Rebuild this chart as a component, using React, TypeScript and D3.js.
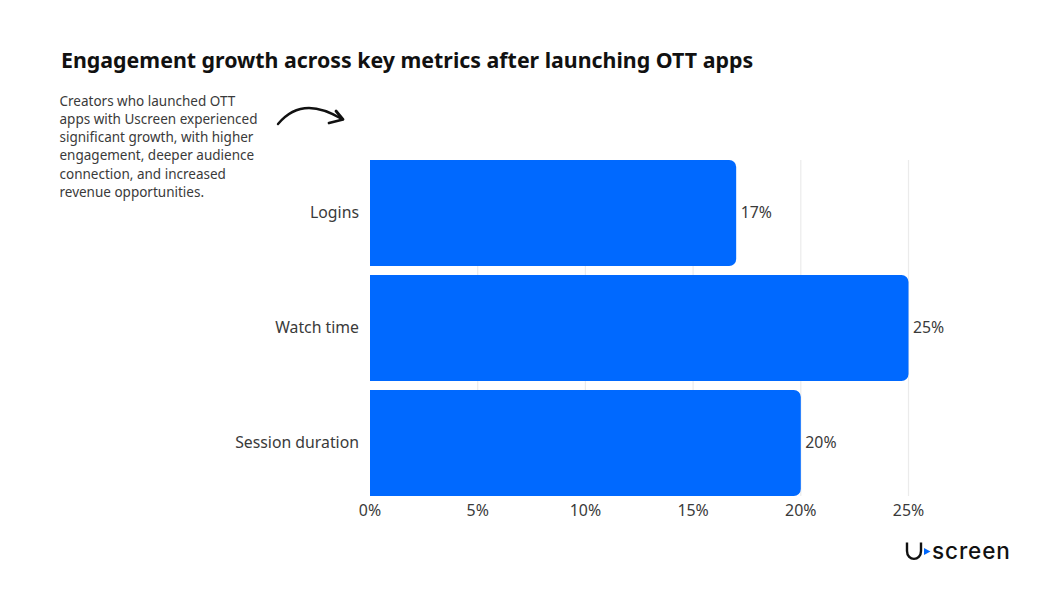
import * as d3 from "d3";

const categories = ["Logins", "Watch time", "Session duration"];
const growth = [17, 25, 20];
const ticks = [0, 5, 10, 15, 20, 25];
const intro = [
  "Creators who launched OTT",
  "apps with Uscreen experienced",
  "significant growth, with higher",
  "engagement, deeper audience",
  "connection, and increased",
  "revenue opportunities.",
];

const width = 1055;
const height = 593;
const font = "'Noto Sans', sans-serif";
const textColor = "#3a3a3a";

const x = d3.scaleLinear().domain([0, 25]).range([370, 908.5]);
const y = d3.scaleBand().domain(categories).range([160, 496]).paddingInner(9 / 115);

// square on the left, rounded on the right
const barPath = (v: number, cat: string) => {
  const r = 7;
  const x0 = x(0);
  const x1 = x(v);
  const y0 = y(cat) as number;
  const y1 = y0 + y.bandwidth();
  const p = d3.path();
  p.moveTo(x0, y0);
  p.lineTo(x1 - r, y0);
  p.arcTo(x1, y0, x1, y0 + r, r);
  p.lineTo(x1, y1 - r);
  p.arcTo(x1, y1, x1 - r, y1, r);
  p.lineTo(x0, y1);
  p.closePath();
  return p.toString();
};

export default function App() {
  return (
    <svg
      width={width}
      height={height}
      viewBox={`0 0 ${width} ${height}`}
      style={{ position: "absolute", left: 0, top: 0, background: "#fff" }}
      fontFamily={font}
    >
      <text x={61} y={68} fontSize={21.35} fontWeight={700} fill="#111">
        Engagement growth across key metrics after launching OTT apps
      </text>

      {intro.map((line, i) => (
        <text key={line} x={59.5} y={105.5 + i * 18.3} fontSize={13.5} fill={textColor}>
          {line}
        </text>
      ))}

      <path d="M278 124 C288 112 298 108 309 108 C320 108 330 112 342 119" fill="none" stroke="#111" strokeWidth={2.4} strokeLinecap="round" />
      <path d="M336 111 L343 119.5 L329 123" fill="none" stroke="#111" strokeWidth={2.8} strokeLinecap="round" strokeLinejoin="round" />

      {ticks.slice(1).map((t) => (
        <line key={t} x1={x(t)} x2={x(t)} y1={160} y2={496} stroke="#ebebeb" strokeWidth={1.2} />
      ))}

      {categories.map((c, i) => (
        <g key={c}>
          <path d={barPath(growth[i], c)} fill="#0069ff" />
          <text x={359} y={(y(c) as number) + y.bandwidth() / 2 + 4.5} textAnchor="end" fontSize={15.8} fill={textColor}>
            {c}
          </text>
          <text x={x(growth[i]) + 4.5} y={(y(c) as number) + y.bandwidth() / 2 + 4.5} fontSize={15.8} fill={textColor}>
            {growth[i]}%
          </text>
        </g>
      ))}

      {ticks.map((t) => (
        <text key={t} x={x(t)} y={515.5} textAnchor="middle" fontSize={15.9} fill={textColor}>
          {t}%
        </text>
      ))}

      <g fontFamily="'Inter', sans-serif">
        <path d="M907 542.5 V551 C907 561.5 921 561.5 921 551 V542.5" fill="none" stroke="#111" strokeWidth={2.4} />
        <path d="M924 548 L930.5 551.5 L924 555 Z" fill="#0069ff" />
        <text x={932} y={559} fontSize={22.5} fontWeight={500} fill="#111" letterSpacing={0.9}>
          screen
        </text>
      </g>
    </svg>
  );
}
